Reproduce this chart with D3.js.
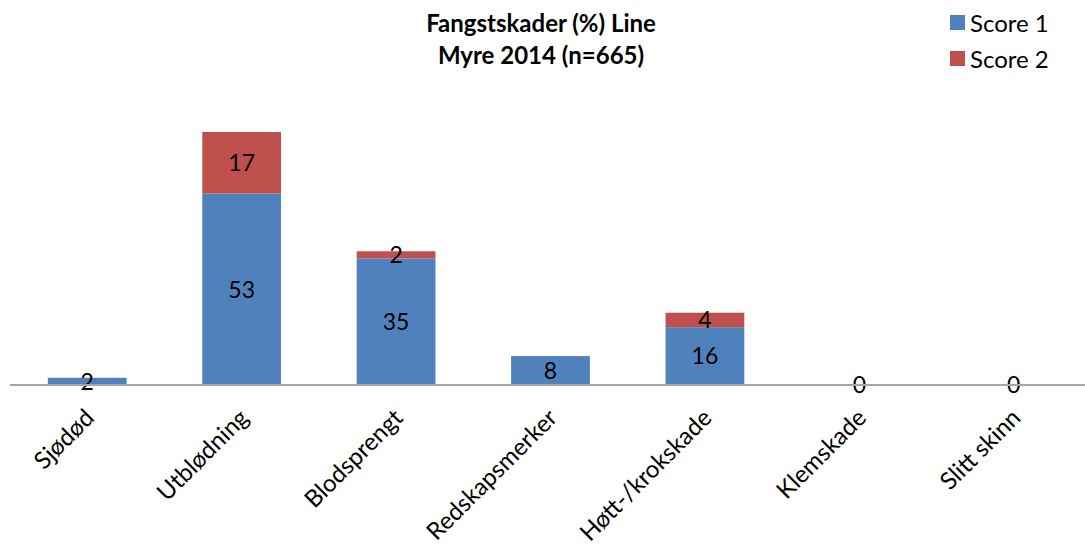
<!DOCTYPE html>
<html>
<head>
<meta charset="utf-8">
<script src="https://cdn.jsdelivr.net/npm/d3@7"></script>
<style>
  html, body { margin: 0; padding: 0; background: #fff; }
  svg { display: block; font-family: Lato, "Open Sans", sans-serif; }
</style>
</head>
<body>
<svg id="chart" width="1085" height="546"></svg>
<script>
// Catch damage categories and share of fish (%) per score
const categories = ["Sjødød", "Utblødning", "Blodsprengt", "Redskapsmerker", "Høtt-/krokskade", "Klemskade", "Slitt skinn"];
const score1 = [2, 53, 35, 8, 16, 0, 0];
const score2 = [null, 17, 2, null, 4, null, null];
const seriesNames = ["Score 1", "Score 2"];
const seriesColors = ["#4F81BD", "#C0504D"];
const titleLines = ["Fangstskader (%) Line", "Myre 2014 (n=665)"];

const svg = d3.select("#chart");
const W = 1085, H = 546;
const margin = { left: 10, right: -6, top: 0, bottom: 0 };
const baseY = 385;

const x = d3.scaleBand()
  .domain(categories)
  .range([margin.left, W - margin.right])
  .paddingInner(0.49)
  .paddingOuter(0.245);

const y = d3.scaleLinear()
  .domain([0, 70])
  .range([baseY, baseY - 253]);

// stack the two series
const rows = categories.map((c, i) => ({ cat: c, s1: score1[i], s2: score2[i] }));
const stack = d3.stack().keys(["s1", "s2"]).value((d, k) => d[k] || 0);
const layers = stack(rows);

const g = svg.append("g");

layers.forEach((layer, li) => {
  g.append("g")
    .attr("fill", seriesColors[li])
    .selectAll("rect")
    .data(layer)
    .join("rect")
    .attr("x", d => x(d.data.cat))
    .attr("width", x.bandwidth())
    .attr("y", d => y(d[1]))
    .attr("height", d => y(d[0]) - y(d[1]));
});

// category axis
const axis = d3.axisBottom(x).tickSize(0).tickPadding(0);
const ax = svg.append("g")
  .attr("transform", `translate(0,${baseY})`)
  .call(axis);
ax.select(".domain")
  .attr("d", `M${margin.left},0H${W}`)
  .attr("stroke", "#A6A6A6")
  .attr("stroke-width", 2);
ax.selectAll(".tick text")
  .attr("font-family", "Lato, 'Open Sans', sans-serif")
  .attr("font-size", 24)
  .attr("fill", "#000")
  .attr("text-anchor", "end")
  .attr("dy", null)
  .attr("y", 0)
  .attr("transform", "translate(4,30) rotate(-45)")
  .attr("dominant-baseline", "middle");

// value labels centred in each segment
layers.forEach((layer, li) => {
  g.append("g")
    .selectAll("text")
    .data(layer.filter(d => d.data[li === 0 ? "s1" : "s2"] !== null))
    .join("text")
    .attr("x", d => x(d.data.cat) + x.bandwidth() / 2)
    .attr("y", d => (y(d[0]) + y(d[1])) / 2)
    .attr("dy", "0.36em")
    .attr("text-anchor", "middle")
    .attr("font-size", 23)
    .attr("fill", "#000")
    .text(d => d.data[li === 0 ? "s1" : "s2"]);
});

// title
svg.append("text")
  .attr("x", 541)
  .attr("y", 32)
  .attr("text-anchor", "middle")
  .attr("font-weight", "bold")
  .attr("font-size", 24)
  .selectAll("tspan")
  .data(titleLines)
  .join("tspan")
  .attr("x", 541)
  .attr("dy", (d, i) => i === 0 ? 0 : 32)
  .text(d => d);

// legend
const legend = svg.append("g").attr("transform", "translate(950,15)");
seriesNames.forEach((name, i) => {
  const row = legend.append("g").attr("transform", `translate(0,${i * 36})`);
  row.append("rect").attr("width", 15).attr("height", 15).attr("fill", seriesColors[i]);
  row.append("text")
    .attr("x", 20)
    .attr("y", 8)
    .attr("dy", "0.36em")
    .attr("font-size", 24)
    .text(name);
});
</script>
</body>
</html>
